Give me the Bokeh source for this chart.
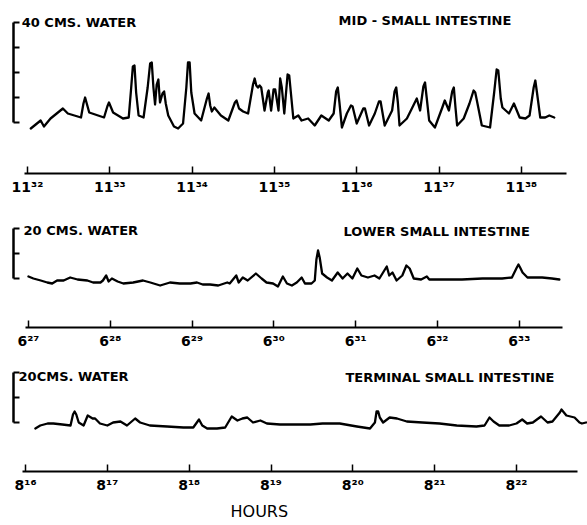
from bokeh.plotting import figure
from bokeh.models import FixedTicker, Label, Range1d, Title
from bokeh.layouts import column
from bokeh.embed import file_html
from bokeh.resources import INLINE

# ---------------- data (minutes after first tick, cm water) ----------------
mid_t = [0.04, 0.16, 0.20, 0.28, 0.43, 0.49, 0.65, 0.68, 0.70, 0.72, 0.75, 0.93, 0.97, 0.99,
         1.01, 1.04, 1.16, 1.23, 1.26, 1.28, 1.30, 1.32, 1.35, 1.41, 1.46, 1.49, 1.51, 1.53,
         1.55, 1.57, 1.59, 1.61, 1.64, 1.66, 1.68, 1.71, 1.78, 1.83, 1.89, 1.93, 1.95, 1.97,
         1.99, 2.03, 2.11, 2.18, 2.20, 2.22, 2.24, 2.27, 2.35, 2.44, 2.52, 2.54, 2.57, 2.62,
         2.68, 2.74, 2.76, 2.78, 2.80, 2.82, 2.84, 2.88, 2.92, 2.93, 2.96, 2.99, 3.01, 3.05,
         3.07, 3.09, 3.12, 3.16, 3.18, 3.23, 3.29, 3.33, 3.41, 3.49, 3.57, 3.66, 3.72, 3.75,
         3.77, 3.79, 3.82, 3.88, 3.93, 3.95, 4.00, 4.08, 4.10, 4.15, 4.22, 4.27, 4.29, 4.34,
         4.43, 4.46, 4.48, 4.50, 4.52, 4.61, 4.67, 4.73, 4.77, 4.81, 4.83, 4.85, 4.88, 4.95,
         5.04, 5.07, 5.12, 5.16, 5.18, 5.20, 5.22, 5.30, 5.37, 5.42, 5.44, 5.46, 5.52, 5.62,
         5.67, 5.70, 5.72, 5.75, 5.77, 5.85, 5.91, 5.98, 6.05, 6.10, 6.15, 6.17, 6.19, 6.23,
         6.29, 6.34, 6.40]
mid_cm = [-2.4, 0.8, -1.6, 1.6, 5.6, 3.6, 2.0, 7.6, 10.0, 7.6, 4.0, 2.0, 6.4, 8.0,
          6.4, 4.0, 1.6, 2.0, 14.0, 22.4, 22.8, 12.0, 2.8, 2.0, 14.0, 23.6, 24.0, 14.0,
          7.2, 15.2, 17.2, 8.0, 11.6, 12.4, 7.6, 2.8, -1.6, -2.4, -0.4, 14.0, 24.0, 24.0,
          12.0, 3.6, 0.8, 9.6, 11.6, 6.8, 4.4, 6.0, 2.8, 0.8, 8.0, 8.8, 5.6, 4.4,
          3.6, 15.2, 17.6, 14.8, 14.0, 14.8, 14.0, 4.8, 12.0, 12.8, 4.8, 13.2, 13.2, 4.8,
          17.6, 14.0, 3.6, 19.2, 18.8, 1.6, 2.8, 0.8, 1.6, -1.2, 2.8, 0.8, 3.6, 12.4,
          14.0, 8.0, -2.0, 3.6, 6.8, 6.4, -0.4, 5.6, 5.6, -1.2, 3.6, 8.4, 8.4, -1.2,
          4.8, 12.4, 14.0, 8.0, -1.2, 1.6, 5.6, 9.6, 4.8, 14.4, 16.0, 10.0, 0.8, -2.0,
          6.0, 8.8, 4.8, 12.4, 14.0, 6.0, -1.2, 1.6, 7.6, 12.8, 12.0, 8.8, -1.2, -2.0,
          12.0, 21.2, 20.8, 9.6, 6.0, 3.6, 7.6, 2.0, 1.6, 2.8, 14.0, 16.8, 12.0, 2.0,
          2.0, 2.8, 2.0]

low_t = [0.00, 0.06, 0.15, 0.23, 0.29, 0.35, 0.43, 0.51, 0.60, 0.72, 0.79, 0.88, 0.91, 0.95,
         0.98, 1.02, 1.09, 1.16, 1.28, 1.40, 1.49, 1.61, 1.73, 1.85, 1.98, 2.06, 2.13, 2.22,
         2.32, 2.43, 2.46, 2.54, 2.57, 2.62, 2.68, 2.78, 2.85, 2.91, 2.99, 3.05, 3.11, 3.16,
         3.22, 3.28, 3.34, 3.38, 3.46, 3.50, 3.52, 3.54, 3.56, 3.59, 3.65, 3.71, 3.78, 3.84,
         3.90, 3.96, 4.02, 4.07, 4.15, 4.23, 4.29, 4.38, 4.41, 4.45, 4.50, 4.57, 4.62, 4.66,
         4.71, 4.80, 4.87, 4.90, 5.06, 5.30, 5.55, 5.79, 5.91, 5.97, 5.99, 6.01, 6.04, 6.10,
         6.21, 6.28, 6.40, 6.49]
low_cm = [0.8, 0.0, -0.8, -1.6, -2.0, -0.8, -0.8, 0.4, -0.4, -0.8, -1.6, -1.6, -0.8, 1.2,
          -1.2, 0.0, -1.2, -2.0, -1.6, -0.8, -1.6, -2.8, -1.6, -2.0, -2.0, -1.6, -2.4, -2.4,
          -2.8, -1.6, -2.0, 1.2, -1.6, 0.4, -0.8, 2.0, 0.0, -1.6, -2.0, -3.2, 0.8, -2.0,
          -2.8, -1.6, 0.4, -2.0, -2.0, -0.8, 7.6, 11.2, 8.4, 2.0, 0.4, -0.8, 2.4, 0.0,
          2.0, 0.0, 4.0, 1.2, 0.4, 1.2, 0.0, 4.8, 1.2, 2.4, -0.8, 1.2, 5.2, 4.0,
          0.0, -0.4, 0.8, -0.4, -0.4, -0.4, 0.0, 0.0, 0.4, 4.4, 5.6, 4.4, 2.4, 0.4,
          0.4, 0.4, 0.0, -0.4]

term_t = [0.12, 0.18, 0.27, 0.34, 0.45, 0.55, 0.58, 0.60, 0.62, 0.65, 0.71, 0.76, 0.82, 0.85,
          0.91, 1.00, 1.07, 1.16, 1.24, 1.34, 1.40, 1.52, 1.73, 1.93, 2.05, 2.12, 2.16, 2.22,
          2.34, 2.44, 2.52, 2.59, 2.65, 2.71, 2.78, 2.87, 2.95, 3.11, 3.35, 3.48, 3.63, 3.84,
          4.05, 4.21, 4.27, 4.29, 4.31, 4.33, 4.37, 4.45, 4.54, 4.66, 4.85, 5.06, 5.27, 5.51,
          5.61, 5.67, 5.72, 5.79, 5.91, 6.00, 6.07, 6.13, 6.20, 6.30, 6.38, 6.44, 6.53, 6.55,
          6.57, 6.61, 6.71, 6.77, 6.80, 6.85]
term_cm = [-2.4, -1.2, -0.4, -0.4, -0.8, -1.2, 3.2, 4.4, 3.2, 0.0, -1.2, 2.8, 1.6, 1.6,
           -0.4, -1.2, 0.0, 0.4, -1.2, 1.6, 0.0, -1.2, -1.6, -2.0, -2.0, 1.2, -1.2, -2.4,
           -2.4, -2.0, 2.4, 0.8, 1.6, 2.0, 0.0, 0.8, -0.4, -0.8, -0.8, -0.8, -0.4, -0.4,
           -1.6, -2.4, 0.0, 4.4, 4.4, 2.0, 0.0, 2.0, 1.6, 0.4, 0.0, -0.4, -1.2, -1.6,
           -1.2, 2.0, 0.4, -1.2, -1.2, -0.4, 1.2, -0.4, 0.0, 2.4, 0.0, 0.4, 4.0, 5.2,
           4.4, 2.8, 2.0, 0.0, -0.4, 0.0]

minute_ticks = [0, 1, 2, 3, 4, 5, 6]
mid_labels = ["11³²", "11³³", "11³⁴", "11³⁵", "11³⁶", "11³⁷", "11³⁸"]
low_labels = ["6²⁷", "6²⁸", "6²⁹", "6³⁰", "6³¹", "6³²", "6³³"]
term_labels = ["8¹⁶", "8¹⁷", "8¹⁸", "8¹⁹", "8²⁰", "8²¹", "8²²"]

mid_scale = [0, 10, 20, 30, 40]
low_scale = [0, 10, 20]
term_scale = [0, 10, 20]

FONT = "DejaVu Sans"


def panel(t, cm, labels, scale, xr, yr, xbounds, height, top, bottom,
          unit_text, unit_xy, title_text, title_xy):
    p = figure(width=587, height=height, x_range=Range1d(*xr), y_range=Range1d(*yr),
               output_backend="svg", toolbar_location=None,
               min_border_left=13, min_border_right=0,
               min_border_top=top, min_border_bottom=bottom)
    p.grid.visible = False
    p.outline_line_color = None
    p.background_fill_color = "white"
    p.border_fill_color = "white"

    p.line(t, cm, line_width=2.3, color="black", line_join="round", line_cap="round")

    xa = p.xaxis[0]
    xa.ticker = FixedTicker(ticks=minute_ticks)
    xa.bounds = xbounds
    xa.major_label_overrides = {k: v for k, v in zip(minute_ticks, labels)}
    xa.major_tick_in = 7
    xa.major_tick_out = 0
    xa.minor_tick_line_color = None
    xa.axis_line_width = 2
    xa.major_tick_line_width = 1.5
    xa.major_label_standoff = 5
    xa.major_label_text_font = FONT
    xa.major_label_text_font_style = "bold"
    xa.major_label_text_font_size = "14px"
    xa.major_label_text_color = "black"
    xa.axis_line_color = "black"
    xa.major_tick_line_color = "black"

    ya = p.yaxis[0]
    ya.ticker = FixedTicker(ticks=scale)
    ya.bounds = (scale[0], scale[-1])
    ya.major_label_overrides = {k: "" for k in scale}
    ya.major_label_standoff = 0
    ya.major_tick_in = 6
    ya.major_tick_out = 0
    ya.minor_tick_line_color = None
    ya.axis_line_width = 2.5
    ya.major_tick_line_width = 2
    ya.axis_line_color = "black"
    ya.major_tick_line_color = "black"

    p.add_layout(Label(x=unit_xy[0], y=unit_xy[1], text=unit_text, text_font=FONT,
                       text_font_style="bold", text_font_size="13px", text_color="black",
                       text_baseline="middle", text_align="left"))
    p.add_layout(Label(x=title_xy[0], y=title_xy[1], text=title_text, text_font=FONT,
                       text_font_style="bold", text_font_size="13px", text_color="black",
                       text_baseline="middle", text_align="left"))
    return p


p1 = panel(mid_t, mid_cm, mid_labels, mid_scale, (-0.17, 6.804), (-20.4, 44.8),
           (-0.04, 6.55), 201, 10, 28,
           "40 CMS. WATER", (-0.07, 40), "MID - SMALL INTESTINE", (3.78, 40.8))
p2 = panel(low_t, low_cm, low_labels, low_scale, (-0.183, 6.834), (-19.6, 25.2),
           (-0.04, 6.53), 154, 14, 28,
           "20 CMS. WATER", (-0.06, 19.2), "LOWER SMALL INTESTINE", (3.85, 18.8))
p3 = panel(term_t, term_cm, term_labels, term_scale, (-0.147, 6.868), (-19.6, 22.8),
           (-0.04, 6.75), 170, 10, 54,
           "20CMS. WATER", (-0.085, 18.4), "TERMINAL SMALL INTESTINE", (3.91, 18.0))
p3.add_layout(Title(text="HOURS", align="left", offset=217, standoff=8,
                    text_font=FONT, text_font_size="16px", text_font_style="normal",
                    text_color="black"), "below")

layout = column(p1, p2, p3, spacing=0)
open("out.html", "w").write(file_html(layout, INLINE))
